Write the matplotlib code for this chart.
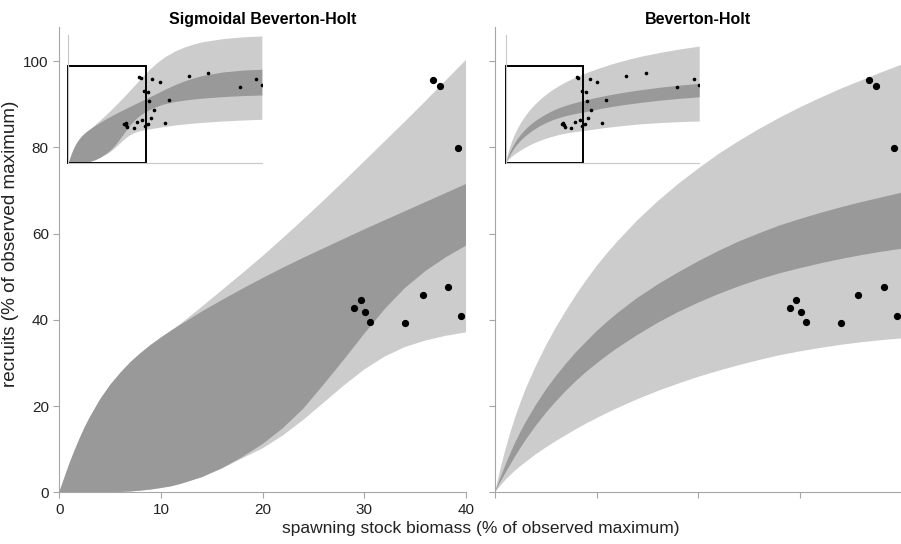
import matplotlib
matplotlib.use('Agg')
from matplotlib import pyplot as plt
from matplotlib.patches import Rectangle

plt.rcParams['font.family'] = ['Liberation Sans', 'DejaVu Sans']

# observed stock-recruitment points (% of observed maximum)
ssb = [29.0, 29.65, 30.07, 30.57, 34.0, 35.74, 38.26, 39.54, 36.76, 37.47, 39.25,
       41.3, 41.0, 41.9, 42.7, 43.4, 44.3, 47.2, 50.0, 52.0, 62.2, 72.4, 88.7, 97.2, 100.0]
rec = [42.75, 44.6, 41.8, 39.5, 39.3, 45.8, 47.7, 40.8, 95.6, 94.2, 79.9,
       78.7, 42.7, 68.6, 50.3, 93.9, 58.9, 89.8, 44.7, 69.7, 96.5, 100.0, 84.2, 93.2, 87.2]

# x positions where the band edges were read
s_grid = [0, 0.25, 0.5, 1, 1.5, 2, 2.5, 3, 4, 5, 6, 7, 8, 9, 10, 11, 12, 14, 16, 18, 20, 22, 24,
          26, 28, 30, 32, 34, 36, 38, 40, 42.5, 45, 47.5, 50, 55, 60, 65, 70, 80, 90, 100]

# sigmoidal Beverton-Holt bands
sbh_light_hi = [0, 1.7, 3.4, 6.7, 9.7, 12.5, 15.1, 17.4, 21.5, 24.9, 27.7, 30.2, 32.3, 34.2, 35.9,
                37.5, 39.2, 43.0, 46.9, 50.8, 54.8, 59.0, 63.3, 67.7, 72.2, 76.8, 81.4, 86.0, 90.7,
                95.5, 100.3, 105.5, 110.4, 114.8, 118.6, 124.8, 129.4, 132.9, 135.5, 138.8, 140.7, 141.7]
sbh_dark_hi = [0, 1.7, 3.4, 6.7, 9.7, 12.5, 15.1, 17.4, 21.5, 24.9, 27.7, 30.2, 32.3, 34.2, 35.9,
               37.5, 39.0, 41.9, 44.6, 47.2, 49.7, 52.1, 54.4, 56.6, 58.8, 61.0, 63.1, 65.2, 67.3,
               69.4, 71.5, 74.1, 76.8, 79.5, 82.2, 87.2, 91.5, 95.0, 97.8, 101.5, 103.5, 104.5]
sbh_dark_lo = [0, 0, 0, 0, 0, 0, 0, 0, 0, 0.05, 0.1, 0.2, 0.4, 0.65, 1.0, 1.4, 2.0, 3.5, 5.6, 8.2,
               11.2, 14.9, 19.4, 25.0, 30.8, 36.8, 42.5, 47.4, 51.3, 54.5, 57.2, 60.0, 62.4, 64.4,
               66.0, 68.4, 70.0, 71.3, 72.3, 73.9, 75.0, 75.7]
sbh_light_lo = [0, 0, 0, 0, 0, 0, 0, 0, 0, 0.05, 0.1, 0.2, 0.4, 0.65, 1.0, 1.4, 2.0, 3.5, 5.5, 7.9,
                10.2, 13.2, 16.8, 20.8, 24.8, 28.5, 31.5, 33.7, 35.2, 36.3, 37.1, 38.0, 38.9, 39.8,
                40.6, 42.1, 43.3, 44.3, 45.2, 46.6, 47.7, 48.5]

# Beverton-Holt bands
bh_light_hi = [0, 2.6, 5.1, 9.7, 13.8, 17.5, 20.8, 23.9, 29.2, 34.0, 38.3, 42.2, 45.9, 49.3, 52.5,
               55.4, 58.1, 63.1, 67.5, 71.5, 75.1, 78.5, 81.5, 84.3, 86.9, 89.3, 91.5, 93.6, 95.5,
               97.4, 99.2, 101.4, 103.4, 105.3, 107.1, 110.6, 113.7, 116.5, 119.1, 123.5, 127.2, 130.4]
bh_dark_hi = [0, 1.6, 3.2, 6.2, 9.0, 11.6, 14.0, 16.2, 20.2, 23.8, 27.0, 29.9, 32.6, 35.0, 37.4,
              39.5, 41.5, 45.1, 48.2, 51.0, 53.6, 56.0, 58.2, 60.1, 61.9, 63.4, 64.8, 66.1, 67.3,
              68.4, 69.5, 70.8, 72.1, 73.3, 74.4, 76.5, 78.4, 80.1, 81.7, 84.5, 86.8, 88.7]
bh_dark_lo = [0, 1.15, 2.3, 4.4, 6.4, 8.4, 10.3, 12.1, 15.4, 18.4, 21.1, 23.6, 25.9, 28.0, 29.9,
              31.7, 33.4, 36.5, 39.3, 41.8, 44.0, 46.0, 47.8, 49.4, 50.8, 52.0, 53.1, 54.1, 55.0,
              55.8, 56.5, 57.6, 58.8, 59.9, 61.0, 62.9, 64.6, 66.1, 67.5, 70.0, 72.0, 73.7]
bh_light_lo = [0, 0.75, 1.5, 2.8, 4.0, 5.1, 6.1, 7.0, 8.8, 10.4, 11.9, 13.3, 14.7, 16.0, 17.2,
               18.4, 19.5, 21.6, 23.5, 25.2, 26.8, 28.2, 29.5, 30.7, 31.8, 32.7, 33.5, 34.2, 34.8,
               35.3, 35.7, 36.6, 37.4, 38.2, 38.9, 40.2, 41.4, 42.5, 43.5, 44.9, 45.9, 46.6]

panels = [
    ('Sigmoidal Beverton-Holt', sbh_light_lo, sbh_light_hi, sbh_dark_lo, sbh_dark_hi),
    ('Beverton-Holt', bh_light_lo, bh_light_hi, bh_dark_lo, bh_dark_hi),
]

light = '#cccccc'
dark = '#999999'
spine_col = '#a6a6a6'

fig = plt.figure(figsize=(9.01, 5.44), dpi=100)
main_pos = [[0.0658, 0.095, 0.4514, 0.856], [0.5494, 0.095, 0.4514, 0.856]]
inset_pos = [[0.0758, 0.701, 0.2148, 0.235], [0.5612, 0.701, 0.2148, 0.235]]

for i, (title, llo, lhi, dlo, dhi) in enumerate(panels):
    ax = fig.add_axes(main_pos[i])
    ax.fill_between(s_grid, llo, lhi, color=light, lw=0)
    ax.fill_between(s_grid, dlo, dhi, color=dark, lw=0)
    ax.plot(ssb, rec, 'o', color='black', ms=4.2)
    ax.set_xlim(0, 40)
    ax.set_ylim(0, 108)
    ax.set_xticks([0, 10, 20, 30, 40])
    ax.set_yticks([0, 20, 40, 60, 80, 100])
    for side in ['top', 'right']:
        ax.spines[side].set_visible(False)
    for side in ['left', 'bottom']:
        ax.spines[side].set_color(spine_col)
    ax.tick_params(colors=spine_col, labelcolor='#222222', labelsize=11, length=4)
    if i == 1:
        ax.set_xticklabels([])
        ax.set_yticklabels([])
    ax.set_title(title, fontsize=11.5, fontweight='bold', pad=2)

    # inset with the full data range
    ins = fig.add_axes(inset_pos[i])
    ins.fill_between(s_grid, llo, lhi, color=light, lw=0)
    ins.fill_between(s_grid, dlo, dhi, color=dark, lw=0)
    ins.plot(ssb, rec, 'o', color='black', ms=1.6)
    ins.set_xlim(0, 100)
    ins.set_ylim(0, 143)
    ins.set_xticks([])
    ins.set_yticks([])
    ins.patch.set_alpha(0)
    for side in ['top', 'right']:
        ins.spines[side].set_visible(False)
    for side in ['left', 'bottom']:
        ins.spines[side].set_color('#c8c8c8')
    ins.add_patch(Rectangle((0, 0), 40, 108, fill=False, ec='black', lw=1.4, clip_on=False))

fig.text(0.534, 0.028, 'spawning stock biomass (% of observed maximum)', ha='center', va='center',
         fontsize=12.5, color='#222222')
fig.text(0.012, 0.551, 'recruits (% of observed maximum)', ha='center', va='center',
         rotation=90, fontsize=13.6, color='#222222')

fig.savefig('out.png', dpi=100)
